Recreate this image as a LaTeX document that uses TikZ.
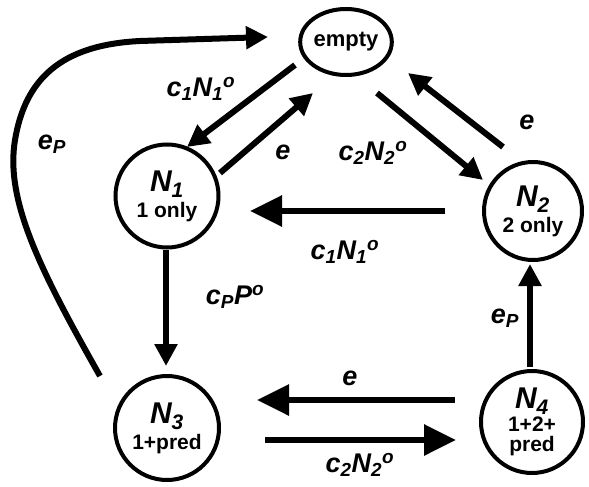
\documentclass[tikz,border=0pt]{standalone}
\usepackage{fontspec}
\setmainfont{Liberation Sans}
\usetikzlibrary{arrows.meta,shapes.geometric,calc}
\begin{document}
\begin{tikzpicture}[x=1pt,y=-1pt,
  st/.style={circle,draw,line width=4pt,inner sep=0pt,font=\fontsize{21}{22}\selectfont\bfseries,align=center},
  est/.style={ellipse,draw,line width=4pt,inner sep=0pt,font=\fontsize{22}{23}\selectfont\bfseries},
  arr/.style={line width=6pt,-{Triangle[length=22pt,width=22pt]}},
  harr/.style={line width=6pt,-{Triangle[length=32pt,width=30pt]}},
  lab/.style={font=\fontsize{27}{29}\selectfont\bfseries\itshape}]
\useasboundingbox (0,0) rectangle (589,487);
\node[est,minimum width=78pt,minimum height=66pt] (empty) at (346,42) {empty};
\node[st,minimum size=103pt] (N1) at (167,196) {{\fontsize{30}{30}\selectfont\itshape N\textsubscript{1}}\\[4pt]1 only};
\node[st,minimum size=98pt] (N2) at (533,211) {{\fontsize{30}{30}\selectfont\itshape N\textsubscript{2}}\\[4pt]2 only};
\node[st,minimum size=104pt] (N3) at (167,428) {{\fontsize{30}{30}\selectfont\itshape N\textsubscript{3}}\\[4pt]1+pred};
\node[st,minimum size=102pt] (N4) at (532,422) {{\fontsize{30}{30}\selectfont\itshape N\textsubscript{4}}\\[1pt]1+2+\\[-2pt]pred};
% connectors
\draw[arr] ($(empty)+(-51,23)$) -- ($(N1)+(20,-49)$);
\draw[arr] ($(N1)+(53,-23)$) -- ($(empty)+(-33,51)$);
\draw[arr] ($(empty)+(31,51)$) -- ($(N2)+(-50,-31)$);
\draw[arr] ($(N2)+(-30,-64)$) -- ($(empty)+(62,31)$);
\draw[harr] ($(N2)+(-88,0)$) -- ($(N1)+(83,15)$);
\draw[arr] ($(N1)+(-1,54)$) -- ($(N3)+(-1,-62)$);
\draw[arr] ($(N4)+(-2,-55)$) -- ($(N2)+(-3,53)$);
\draw[harr] ($(N4)+(-77,-22)$) -- ($(N3)+(90,-28)$);
\draw[harr] ($(N3)+(98,12)$) -- ($(N4)+(-76,18)$);
\draw[arr] ($(N3)+(-67,-52)$) .. controls (40,270) and (5,200) .. (15,140)
  .. controls (25,80) and (60,45) .. (140,41) -- ($(empty)+(-78,-5)$);
% labels
\node[lab] (l1) at (201,89) {c\textsubscript{1}N\textsubscript{1}\textsuperscript{o}};
\node[lab] (l2) at (283,152) {e};
\node[lab] (l3) at (373,153) {c\textsubscript{2}N\textsubscript{2}\textsuperscript{o}};
\node[lab] (l4) at (527,122) {e};
\node[lab] (l5) at (345,252) {c\textsubscript{1}N\textsubscript{1}\textsuperscript{o}};
\node[lab] (l6) at (235,297) {c\textsubscript{P}P\textsuperscript{o}};
\node[lab] (l7) at (505,318) {e\textsubscript{P}};
\node[lab] (l8) at (350,378) {e};
\node[lab] (l9) at (360,465) {c\textsubscript{2}N\textsubscript{2}\textsuperscript{o}};
\node[lab] (l10) at (52,144) {e\textsubscript{P}};
\end{tikzpicture}
\end{document}
